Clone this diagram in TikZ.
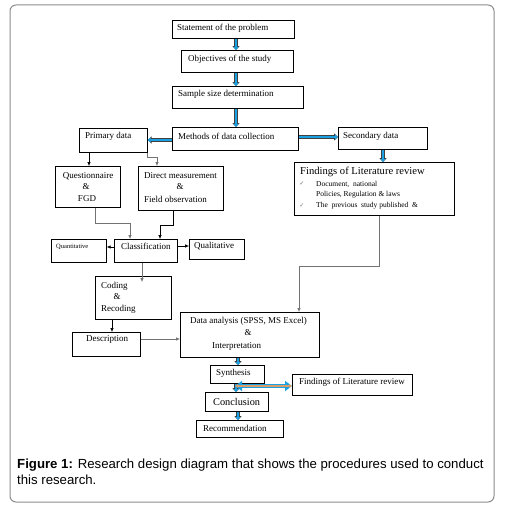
\documentclass[tikz,border=0pt]{standalone}
\usepackage{fontspec}
\setmainfont{Liberation Serif}
\newfontfamily\capfont{Liberation Sans}
\newfontfamily\symfont{DejaVu Sans}
\usetikzlibrary{arrows.meta,calc}
\definecolor{arrblue}{RGB}{27,161,226}
\definecolor{arrtan}{RGB}{214,158,108}

\begin{document}
\begin{tikzpicture}[x=1pt,y=-1pt,
  box/.style={draw, line width=0.7pt, anchor=north west, inner sep=0pt},
  txt/.style={anchor=west, inner sep=0pt, font=\fontsize{9}{10}\selectfont},
  ctxt/.style={inner sep=0pt, font=\fontsize{9}{10}\selectfont},
  conn/.style={draw=black!55, line width=0.6pt, -{Latex[length=4pt,width=3.5pt]}},
  bconn/.style={draw=black, line width=0.6pt, -{Latex[length=4pt,width=3.5pt]}},
  bluearr/.style={draw=arrblue, line width=2.2pt, -{Triangle[length=3pt,width=5pt]},
    preaction={draw=black!75, line width=3.2pt, -{Triangle[length=3.8pt,width=6.8pt]}}},
  dblarr/.style={draw=arrtan, line width=1.3pt, {Triangle[length=3pt,width=3.5pt]}-{Triangle[length=3pt,width=3.5pt]},
    preaction={draw=arrblue, line width=3.6pt, {Triangle[length=7pt,width=10pt]}-{Triangle[length=7pt,width=10pt]}}}]
\useasboundingbox (0,0) rectangle (504,505);
\draw[black!45, line width=1pt, rounded corners=6pt] (10,5) rectangle (494,502);

% boxes
\node[box, minimum width=122pt, minimum height=18pt] (stmt) at (172,20) {};
\node[box, minimum width=112pt, minimum height=22pt] (obj) at (181,50) {};
\node[box, minimum width=131pt, minimum height=22pt] (samp) at (172,86) {};
\node[box, minimum width=126pt, minimum height=23pt] (meth) at (172,127) {};
\node[box, minimum width=68pt, minimum height=24pt] (prim) at (79,128) {};
\node[box, minimum width=89pt, minimum height=22pt] (sec) at (338,127) {};
\node[box, minimum width=160pt, minimum height=53pt] (find) at (294,162) {};
\node[box, minimum width=65pt, minimum height=41pt] (quest) at (55,166) {};
\node[box, minimum width=85pt, minimum height=44pt] (dir) at (138,166) {};
\node[box, minimum width=55pt, minimum height=23pt] (quant) at (51,239) {};
\node[box, minimum width=63pt, minimum height=23pt] (class) at (114,239) {};
\node[box, minimum width=55pt, minimum height=20pt] (qual) at (189,239) {};
\node[box, minimum width=76pt, minimum height=43pt] (cod) at (95,276) {};
\node[box, minimum width=139pt, minimum height=45pt] (dat) at (180,312) {};
\node[box, minimum width=68pt, minimum height=24pt] (desc) at (72,332) {};
\node[box, minimum width=54pt, minimum height=18pt] (synth) at (210,365) {};
\node[box, minimum width=120pt, minimum height=21pt] (fsmall) at (292,374) {};
\node[box, minimum width=63pt, minimum height=19pt] (concl) at (205,392) {};
\node[box, minimum width=87pt, minimum height=17pt] (rec) at (196,420) {};

% texts
\node[txt] (stmtt) at (177,28) {Statement of the problem};
\node[txt] (objt) at (188,59) {Objectives of the study};
\node[txt] (sampt) at (178,94) {Sample size determination};
\node[txt] (metht) at (178,136) {Methods of data collection};
\node[txt] (primt) at (85,136) {Primary data};
\node[txt] (sect) at (343,136) {Secondary data};
\node[txt, font=\fontsize{10.6}{12}\selectfont] (findt) at (300,172) {Findings of Literature review};
\node[txt, font=\fontsize{7.5}{9}\selectfont] (fone) at (316,184) {Document,\ \ national};
\node[txt, font=\fontsize{7.5}{9}\selectfont] (ftwo) at (316,195) {Policies, Regulation \& laws};
\node[txt, font=\fontsize{7.5}{9}\selectfont] (fthree) at (316,206) {The\ \ previous\ \ study\ published\ \ \&};
\node[ctxt, text=black!55, font=\symfont\fontsize{6}{7}\selectfont] (chkone) at (302,184) {✓};
\node[ctxt, text=black!55, font=\symfont\fontsize{6}{7}\selectfont] (chktwo) at (302,206) {✓};
\node[ctxt] (questa) at (88,176) {Questionnaire};
\node[ctxt] (questb) at (86,187) {\&};
\node[ctxt] (questc) at (87,199) {FGD};
\node[txt] (dira) at (144,176) {Direct measurement};
\node[ctxt] (dirb) at (180,187) {\&};
\node[txt] (dirc) at (144,199) {Field observation};
\node[txt, font=\fontsize{6.5}{8}\selectfont] (quantt) at (56,247) {Quantitative};
\node[txt] (classt) at (121,246) {Classification};
\node[txt] (qualt) at (194,246) {Qualitative};
\node[txt] (coda) at (101,286) {Coding};
\node[ctxt] (codb) at (117,297) {\&};
\node[txt] (codc) at (101,309) {Recoding};
\node[txt] (data) at (190,321) {Data analysis (SPSS, MS Excel)};
\node[ctxt] (datb) at (248,333) {\&};
\node[txt] (datc) at (212,346) {Interpretation};
\node[txt] (desct) at (86,339) {Description};
\node[txt] (syntht) at (216,373) {Synthesis};
\node[txt] (fsmallt) at (299,382) {Findings of Literature review};
\node[txt, font=\fontsize{10.3}{12}\selectfont] (conclt) at (213,402) {Conclusion};
\node[txt] (rect) at (203,428) {Recommendation};

% blue arrows
\draw[bluearr] (236,0 |- stmt.south) -- (236,0 |- obj.north);
\draw[bluearr] (236,0 |- obj.south) -- (236,0 |- samp.north);
\draw[bluearr] (236,0 |- samp.south) -- (236,0 |- meth.north);
\draw[bluearr] (meth.west |- 0,140) -- (prim.east |- 0,140);
\draw[bluearr] (meth.east |- 0,137) -- (sec.west |- 0,137);
\draw[bluearr] (383,0 |- sec.south) -- (383,0 |- find.north);
\draw[bluearr] (238,0 |- dat.south) -- (238,0 |- synth.north);
\draw[bluearr] (236,0 |- synth.south) -- (236,0 |- concl.north);
\draw[bluearr] (238,0 |- concl.south) -- (238,0 |- rec.north);
\coordinate (dblleft) at (235,386);
\draw[dblarr] (dblleft) -- (fsmall.west |- dblleft);

% thin connectors
\draw[bconn] (89,0 |- prim.south) -- (89,0 |- quest.north);
\draw[conn] (prim.south east) -- ++(0,5) -| ($(dir.north west)+(19,0)$);
\draw[conn] ($(quest.south west)+(40,0)$) -- ++(0,16) -| ($(class.north west)+(16,0)$);
\draw[bconn] ($(dir.south west)+(35,0)$) -- ++(0,15) -| ($(class.north west)+(46,0)$);
\draw[bconn] (class.west |- 0,247) -- (quant.east |- 0,247);
\draw[bconn] (class.east |- 0,246) -- (qual.west |- 0,246);
\draw[conn] ($(class.south west)+(28,0)$) -- ($(cod.north west)+(47,6)$);
\draw[bconn] ($(cod.south west)+(17,0)$) -- ($(desc.north west)+(40,0)$);
\draw[conn] (desc.east |- 0,339) -- (dat.west |- 0,339);
\draw[conn] ($(find.south west)+(85,0)$) -- ++(0,51) -| ($(dat.north west)+(119,0)$);

% caption
\node[anchor=north west, align=left, inner sep=0pt, font=\capfont\fontsize{13.2}{16}\selectfont] (cap) at (17,459)
  {\textbf{Figure 1:} Research design diagram that shows the procedures used to conduct\\this research.};
\end{tikzpicture}
\end{document}
